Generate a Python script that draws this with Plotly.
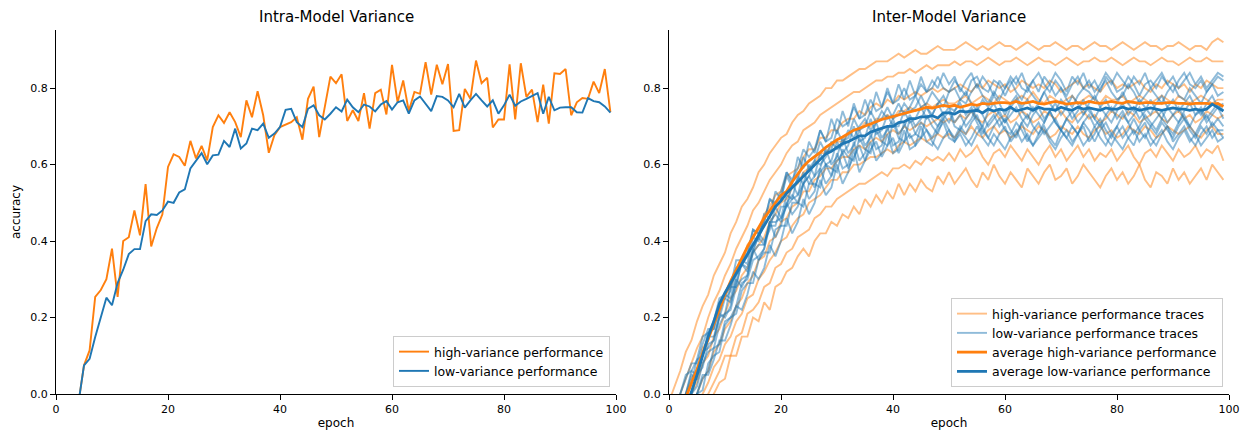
import plotly.graph_objects as go

epochs = list(range(100))

# ---------------- Intra-Model Variance ----------------
intra_high = [-0.20, -0.15, -0.10, -0.06, -0.024, 0.075, 0.114, 0.254, 0.272, 0.30,
              0.38, 0.254, 0.40, 0.41, 0.48, 0.415, 0.549, 0.386, 0.434, 0.47,
              0.594, 0.627, 0.62, 0.597, 0.662, 0.616, 0.649, 0.611, 0.698, 0.729,
              0.709, 0.737, 0.711, 0.672, 0.768, 0.724, 0.792, 0.729, 0.631, 0.677,
              0.698, 0.705, 0.711, 0.724, 0.665, 0.772, 0.804, 0.672, 0.75, 0.83,
              0.813, 0.836, 0.714, 0.742, 0.714, 0.787, 0.694, 0.787, 0.796, 0.731,
              0.861, 0.763, 0.82, 0.74, 0.79, 0.785, 0.868, 0.783, 0.861, 0.81,
              0.863, 0.688, 0.69, 0.798, 0.772, 0.872, 0.813, 0.827, 0.697, 0.718,
              0.718, 0.862, 0.718, 0.865, 0.777, 0.796, 0.711, 0.809, 0.707, 0.839,
              0.837, 0.85, 0.729, 0.763, 0.774, 0.772, 0.817, 0.787, 0.85, 0.737]

intra_low = [-0.18, -0.14, -0.10, -0.06, -0.024, 0.075, 0.092, 0.149, 0.20, 0.252,
             0.232, 0.29, 0.325, 0.366, 0.379, 0.379, 0.452, 0.47, 0.468, 0.48,
             0.503, 0.5, 0.527, 0.535, 0.59, 0.611, 0.63, 0.601, 0.624, 0.626,
             0.662, 0.646, 0.694, 0.642, 0.655, 0.694, 0.69, 0.707, 0.67, 0.681,
             0.698, 0.743, 0.746, 0.711, 0.698, 0.746, 0.755, 0.729, 0.718, 0.733,
             0.75, 0.739, 0.77, 0.75, 0.737, 0.757, 0.752, 0.739, 0.757, 0.766,
             0.744, 0.763, 0.768, 0.733, 0.768, 0.778, 0.759, 0.74, 0.779, 0.777,
             0.768, 0.75, 0.785, 0.749, 0.768, 0.785, 0.768, 0.752, 0.768, 0.733,
             0.755, 0.783, 0.754, 0.765, 0.772, 0.779, 0.787, 0.733, 0.777, 0.742,
             0.749, 0.75, 0.75, 0.737, 0.736, 0.774, 0.766, 0.763, 0.752, 0.736]

# ---------------- Inter-Model Variance: high-variance traces ----------------
high_trace_1 = [-0.02, 0.02, 0.06, 0.11, 0.14, 0.19, 0.23, 0.26, 0.31, 0.34,
                0.37, 0.42, 0.45, 0.49, 0.51, 0.54, 0.58, 0.60, 0.63, 0.65,
                0.67, 0.68, 0.71, 0.73, 0.74, 0.76, 0.77, 0.78, 0.80, 0.80,
                0.82, 0.82, 0.83, 0.84, 0.85, 0.85, 0.86, 0.87, 0.87, 0.87,
                0.88, 0.89, 0.88, 0.89, 0.90, 0.89, 0.89, 0.90, 0.91, 0.90,
                0.90, 0.90, 0.91, 0.92, 0.91, 0.90, 0.91, 0.90, 0.91, 0.92,
                0.91, 0.91, 0.90, 0.91, 0.92, 0.91, 0.90, 0.91, 0.91, 0.92,
                0.91, 0.90, 0.91, 0.91, 0.90, 0.91, 0.92, 0.91, 0.91, 0.90,
                0.91, 0.92, 0.91, 0.90, 0.91, 0.92, 0.91, 0.91, 0.90, 0.91,
                0.91, 0.92, 0.91, 0.90, 0.91, 0.91, 0.90, 0.92, 0.93, 0.92]

high_trace_2 = [-0.08, -0.04, 0.00, 0.04, 0.08, 0.12, 0.15, 0.20, 0.24, 0.27,
                0.31, 0.34, 0.38, 0.41, 0.44, 0.48, 0.50, 0.53, 0.56, 0.58,
                0.60, 0.63, 0.65, 0.66, 0.69, 0.70, 0.71, 0.73, 0.74, 0.75,
                0.76, 0.77, 0.78, 0.79, 0.79, 0.80, 0.81, 0.82, 0.82, 0.83,
                0.83, 0.84, 0.84, 0.85, 0.84, 0.85, 0.86, 0.85, 0.86, 0.86,
                0.86, 0.87, 0.86, 0.87, 0.87, 0.86, 0.87, 0.88, 0.87, 0.86,
                0.87, 0.87, 0.88, 0.87, 0.86, 0.87, 0.88, 0.87, 0.87, 0.86,
                0.87, 0.88, 0.87, 0.86, 0.87, 0.87, 0.88, 0.87, 0.87, 0.88,
                0.87, 0.86, 0.87, 0.88, 0.87, 0.87, 0.86, 0.87, 0.88, 0.87,
                0.87, 0.86, 0.87, 0.88, 0.87, 0.87, 0.88, 0.87, 0.87, 0.87]

high_trace_3 = [-0.11, -0.07, -0.04, 0.00, 0.04, 0.06, 0.12, 0.14, 0.19, 0.21,
                0.26, 0.28, 0.32, 0.34, 0.39, 0.41, 0.43, 0.47, 0.49, 0.52,
                0.53, 0.57, 0.58, 0.59, 0.62, 0.64, 0.64, 0.67, 0.67, 0.69,
                0.69, 0.71, 0.72, 0.72, 0.74, 0.73, 0.75, 0.76, 0.75, 0.77,
                0.76, 0.78, 0.77, 0.78, 0.79, 0.78, 0.79, 0.80, 0.79, 0.80,
                0.79, 0.80, 0.81, 0.80, 0.79, 0.81, 0.80, 0.82, 0.81, 0.80,
                0.81, 0.79, 0.80, 0.82, 0.81, 0.80, 0.81, 0.80, 0.82, 0.81,
                0.79, 0.80, 0.81, 0.82, 0.80, 0.81, 0.80, 0.79, 0.81, 0.82,
                0.80, 0.81, 0.80, 0.81, 0.82, 0.80, 0.79, 0.81, 0.80, 0.82,
                0.81, 0.80, 0.81, 0.79, 0.81, 0.80, 0.82, 0.81, 0.80, 0.80]

high_trace_4 = [-0.14, -0.10, -0.07, -0.03, 0.00, 0.03, 0.08, 0.10, 0.15, 0.17,
                0.21, 0.25, 0.27, 0.31, 0.33, 0.37, 0.39, 0.41, 0.45, 0.47,
                0.50, 0.51, 0.54, 0.55, 0.58, 0.59, 0.60, 0.63, 0.63, 0.65,
                0.66, 0.66, 0.68, 0.69, 0.69, 0.71, 0.70, 0.72, 0.72, 0.73,
                0.72, 0.74, 0.74, 0.75, 0.74, 0.75, 0.76, 0.75, 0.76, 0.77,
                0.76, 0.76, 0.77, 0.78, 0.76, 0.77, 0.78, 0.77, 0.76, 0.78,
                0.77, 0.76, 0.77, 0.78, 0.77, 0.79, 0.77, 0.76, 0.78, 0.77,
                0.76, 0.77, 0.78, 0.76, 0.77, 0.78, 0.77, 0.76, 0.78, 0.77,
                0.77, 0.78, 0.76, 0.77, 0.78, 0.77, 0.76, 0.77, 0.78, 0.77,
                0.76, 0.78, 0.77, 0.76, 0.77, 0.78, 0.77, 0.76, 0.77, 0.77]

high_trace_5 = [-0.16, -0.13, -0.10, -0.07, -0.03, 0.00, 0.04, 0.06, 0.11, 0.13,
                0.17, 0.19, 0.23, 0.25, 0.29, 0.31, 0.35, 0.36, 0.40, 0.41,
                0.45, 0.46, 0.49, 0.50, 0.53, 0.53, 0.56, 0.57, 0.59, 0.59,
                0.61, 0.62, 0.62, 0.64, 0.65, 0.64, 0.66, 0.67, 0.66, 0.68,
                0.69, 0.68, 0.70, 0.69, 0.70, 0.71, 0.70, 0.71, 0.72, 0.71,
                0.72, 0.71, 0.73, 0.72, 0.74, 0.72, 0.71, 0.73, 0.74, 0.72,
                0.73, 0.71, 0.72, 0.74, 0.73, 0.71, 0.72, 0.74, 0.73, 0.72,
                0.74, 0.72, 0.71, 0.73, 0.74, 0.72, 0.73, 0.71, 0.72, 0.74,
                0.73, 0.72, 0.74, 0.73, 0.71, 0.72, 0.73, 0.74, 0.72, 0.71,
                0.73, 0.74, 0.72, 0.73, 0.71, 0.72, 0.74, 0.73, 0.72, 0.73]

high_trace_6 = [-0.19, -0.16, -0.12, -0.09, -0.06, -0.03, 0.00, 0.03, 0.07, 0.09,
                0.13, 0.15, 0.19, 0.21, 0.25, 0.26, 0.30, 0.32, 0.35, 0.37,
                0.40, 0.41, 0.44, 0.46, 0.47, 0.50, 0.51, 0.52, 0.54, 0.56,
                0.56, 0.58, 0.58, 0.60, 0.60, 0.61, 0.62, 0.62, 0.63, 0.64,
                0.63, 0.65, 0.66, 0.65, 0.66, 0.67, 0.66, 0.67, 0.68, 0.67,
                0.68, 0.67, 0.69, 0.68, 0.70, 0.68, 0.67, 0.69, 0.70, 0.68,
                0.69, 0.67, 0.68, 0.70, 0.69, 0.68, 0.70, 0.69, 0.67, 0.68,
                0.70, 0.69, 0.68, 0.70, 0.68, 0.67, 0.69, 0.70, 0.68, 0.69,
                0.67, 0.68, 0.70, 0.69, 0.68, 0.70, 0.69, 0.67, 0.68, 0.70,
                0.69, 0.68, 0.69, 0.70, 0.68, 0.67, 0.69, 0.70, 0.68, 0.68]

high_trace_7 = [-0.20, -0.17, -0.14, -0.11, -0.09, -0.06, -0.03, 0.00, 0.03, 0.06,
                0.10, 0.10, 0.15, 0.16, 0.21, 0.22, 0.24, 0.28, 0.29, 0.33,
                0.34, 0.37, 0.38, 0.41, 0.42, 0.43, 0.46, 0.47, 0.49, 0.49,
                0.51, 0.52, 0.53, 0.54, 0.55, 0.55, 0.56, 0.57, 0.58, 0.57,
                0.59, 0.59, 0.60, 0.59, 0.61, 0.60, 0.62, 0.61, 0.62, 0.61,
                0.63, 0.61, 0.64, 0.62, 0.63, 0.65, 0.62, 0.60, 0.63, 0.64,
                0.62, 0.65, 0.63, 0.61, 0.64, 0.62, 0.60, 0.63, 0.65, 0.62,
                0.64, 0.61, 0.63, 0.65, 0.62, 0.64, 0.61, 0.63, 0.62, 0.64,
                0.61, 0.63, 0.65, 0.62, 0.60, 0.63, 0.64, 0.62, 0.65, 0.63,
                0.61, 0.64, 0.62, 0.63, 0.65, 0.62, 0.64, 0.63, 0.65, 0.61]

high_trace_8 = [-0.21, -0.18, -0.16, -0.13, -0.10, -0.08, -0.05, -0.03, 0.00, 0.03,
                0.04, 0.10, 0.10, 0.15, 0.15, 0.20, 0.19, 0.24, 0.22, 0.28,
                0.29, 0.32, 0.33, 0.36, 0.38, 0.36, 0.40, 0.42, 0.42, 0.45,
                0.44, 0.47, 0.46, 0.49, 0.47, 0.51, 0.49, 0.52, 0.50, 0.53,
                0.51, 0.55, 0.52, 0.55, 0.53, 0.56, 0.54, 0.53, 0.57, 0.55,
                0.58, 0.55, 0.57, 0.59, 0.56, 0.54, 0.58, 0.56, 0.60, 0.57,
                0.55, 0.58, 0.56, 0.54, 0.59, 0.57, 0.55, 0.58, 0.60, 0.56,
                0.57, 0.59, 0.55, 0.57, 0.60, 0.58, 0.56, 0.54, 0.57, 0.59,
                0.56, 0.58, 0.55, 0.57, 0.60, 0.56, 0.54, 0.58, 0.57, 0.55,
                0.59, 0.56, 0.58, 0.55, 0.57, 0.59, 0.56, 0.60, 0.58, 0.56]

# ---------------- Inter-Model Variance: low-variance traces ----------------
low_trace_1 = [-0.15, -0.11, -0.07, -0.04, 0.00, 0.05, 0.07, 0.13, 0.14, 0.20,
               0.21, 0.28, 0.28, 0.35, 0.34, 0.41, 0.40, 0.47, 0.46, 0.53,
               0.51, 0.58, 0.55, 0.62, 0.59, 0.66, 0.63, 0.69, 0.66, 0.72,
               0.68, 0.74, 0.70, 0.76, 0.72, 0.77, 0.73, 0.79, 0.75, 0.80,
               0.76, 0.81, 0.77, 0.82, 0.78, 0.83, 0.79, 0.82, 0.80, 0.84,
               0.81, 0.83, 0.79, 0.82, 0.84, 0.80, 0.83, 0.81, 0.78, 0.82,
               0.80, 0.83, 0.81, 0.84, 0.80, 0.82, 0.79, 0.83, 0.81, 0.84,
               0.82, 0.79, 0.83, 0.81, 0.84, 0.80, 0.82, 0.79, 0.83, 0.81,
               0.84, 0.82, 0.80, 0.83, 0.81, 0.84, 0.80, 0.82, 0.84, 0.81,
               0.83, 0.80, 0.82, 0.84, 0.81, 0.83, 0.80, 0.82, 0.84, 0.83]

low_trace_2 = [-0.11, -0.07, -0.04, 0.00, 0.03, 0.09, 0.10, 0.16, 0.17, 0.24,
               0.25, 0.27, 0.33, 0.34, 0.36, 0.43, 0.42, 0.45, 0.51, 0.50,
               0.53, 0.58, 0.56, 0.59, 0.64, 0.62, 0.64, 0.69, 0.66, 0.67,
               0.72, 0.70, 0.71, 0.75, 0.72, 0.73, 0.77, 0.74, 0.75, 0.79,
               0.76, 0.77, 0.80, 0.77, 0.78, 0.81, 0.79, 0.80, 0.83, 0.80,
               0.79, 0.82, 0.80, 0.78, 0.82, 0.83, 0.80, 0.79, 0.82, 0.81,
               0.78, 0.81, 0.83, 0.80, 0.79, 0.82, 0.84, 0.81, 0.79, 0.82,
               0.80, 0.78, 0.81, 0.83, 0.80, 0.82, 0.79, 0.81, 0.84, 0.82,
               0.79, 0.80, 0.83, 0.81, 0.78, 0.81, 0.82, 0.80, 0.83, 0.81,
               0.79, 0.82, 0.84, 0.81, 0.80, 0.82, 0.79, 0.81, 0.83, 0.82]

low_trace_3 = [-0.17, -0.14, -0.10, -0.07, -0.03, 0.00, 0.04, 0.06, 0.12, 0.13,
               0.19, 0.20, 0.23, 0.29, 0.30, 0.35, 0.36, 0.38, 0.44, 0.44,
               0.49, 0.49, 0.51, 0.57, 0.55, 0.57, 0.61, 0.60, 0.62, 0.66,
               0.64, 0.65, 0.69, 0.67, 0.70, 0.72, 0.69, 0.71, 0.74, 0.72,
               0.73, 0.76, 0.73, 0.75, 0.78, 0.75, 0.76, 0.79, 0.77, 0.75,
               0.79, 0.80, 0.77, 0.76, 0.79, 0.81, 0.78, 0.76, 0.79, 0.77,
               0.80, 0.82, 0.79, 0.77, 0.80, 0.78, 0.76, 0.79, 0.81, 0.78,
               0.80, 0.77, 0.75, 0.78, 0.80, 0.79, 0.77, 0.80, 0.82, 0.79,
               0.77, 0.78, 0.81, 0.79, 0.76, 0.78, 0.80, 0.78, 0.76, 0.79,
               0.81, 0.78, 0.77, 0.80, 0.78, 0.76, 0.79, 0.81, 0.78, 0.79]

low_trace_4 = [-0.07, -0.03, 0.00, 0.05, 0.06, 0.09, 0.15, 0.16, 0.19, 0.25,
               0.26, 0.28, 0.35, 0.35, 0.37, 0.43, 0.42, 0.45, 0.51, 0.49,
               0.51, 0.57, 0.54, 0.56, 0.62, 0.59, 0.61, 0.66, 0.63, 0.64,
               0.69, 0.66, 0.67, 0.72, 0.69, 0.70, 0.74, 0.71, 0.72, 0.75,
               0.72, 0.73, 0.76, 0.74, 0.75, 0.78, 0.75, 0.73, 0.76, 0.78,
               0.75, 0.74, 0.77, 0.79, 0.76, 0.74, 0.77, 0.75, 0.78, 0.76,
               0.73, 0.76, 0.78, 0.75, 0.77, 0.74, 0.76, 0.79, 0.76, 0.74,
               0.77, 0.75, 0.78, 0.76, 0.73, 0.76, 0.78, 0.75, 0.77, 0.74,
               0.76, 0.79, 0.76, 0.74, 0.77, 0.75, 0.73, 0.76, 0.78, 0.75,
               0.77, 0.74, 0.76, 0.78, 0.75, 0.73, 0.76, 0.78, 0.75, 0.76]

low_trace_5 = [-0.14, -0.10, -0.07, -0.03, 0.00, 0.02, 0.08, 0.11, 0.12, 0.18,
               0.21, 0.22, 0.28, 0.30, 0.31, 0.37, 0.39, 0.39, 0.45, 0.45,
               0.46, 0.52, 0.51, 0.52, 0.58, 0.55, 0.57, 0.63, 0.60, 0.61,
               0.66, 0.63, 0.65, 0.70, 0.66, 0.67, 0.72, 0.68, 0.69, 0.73,
               0.70, 0.70, 0.74, 0.71, 0.72, 0.75, 0.72, 0.73, 0.76, 0.73,
               0.71, 0.74, 0.76, 0.73, 0.75, 0.72, 0.70, 0.74, 0.76, 0.73,
               0.71, 0.75, 0.77, 0.74, 0.72, 0.75, 0.73, 0.71, 0.74, 0.76,
               0.73, 0.75, 0.72, 0.74, 0.77, 0.74, 0.72, 0.75, 0.73, 0.71,
               0.74, 0.76, 0.73, 0.75, 0.72, 0.74, 0.77, 0.74, 0.72, 0.75,
               0.73, 0.71, 0.74, 0.76, 0.73, 0.75, 0.72, 0.74, 0.76, 0.74]

low_trace_6 = [-0.10, -0.07, -0.03, 0.00, 0.06, 0.05, 0.10, 0.15, 0.15, 0.20,
               0.25, 0.24, 0.29, 0.34, 0.32, 0.37, 0.42, 0.40, 0.43, 0.49,
               0.46, 0.49, 0.55, 0.52, 0.55, 0.60, 0.57, 0.59, 0.64, 0.60,
               0.62, 0.67, 0.63, 0.65, 0.69, 0.65, 0.67, 0.71, 0.67, 0.69,
               0.72, 0.68, 0.70, 0.73, 0.70, 0.72, 0.75, 0.72, 0.70, 0.73,
               0.75, 0.71, 0.73, 0.70, 0.72, 0.75, 0.73, 0.70, 0.72, 0.74,
               0.71, 0.73, 0.75, 0.72, 0.70, 0.73, 0.75, 0.72, 0.74, 0.71,
               0.69, 0.72, 0.74, 0.71, 0.73, 0.75, 0.72, 0.70, 0.73, 0.75,
               0.72, 0.74, 0.71, 0.73, 0.75, 0.72, 0.70, 0.72, 0.74, 0.71,
               0.73, 0.75, 0.72, 0.70, 0.73, 0.74, 0.71, 0.73, 0.75, 0.72]

low_trace_7 = [-0.16, -0.13, -0.10, -0.06, -0.03, 0.00, 0.01, 0.08, 0.10, 0.11,
               0.18, 0.20, 0.21, 0.27, 0.29, 0.29, 0.35, 0.37, 0.37, 0.43,
               0.44, 0.44, 0.50, 0.50, 0.49, 0.55, 0.55, 0.54, 0.60, 0.59,
               0.58, 0.64, 0.62, 0.61, 0.67, 0.64, 0.63, 0.69, 0.66, 0.65,
               0.71, 0.67, 0.66, 0.72, 0.68, 0.67, 0.73, 0.70, 0.68, 0.72,
               0.74, 0.70, 0.69, 0.72, 0.74, 0.71, 0.68, 0.71, 0.73, 0.70,
               0.72, 0.69, 0.67, 0.71, 0.73, 0.70, 0.68, 0.71, 0.74, 0.71,
               0.69, 0.72, 0.70, 0.68, 0.71, 0.73, 0.70, 0.72, 0.69, 0.67,
               0.70, 0.73, 0.71, 0.68, 0.70, 0.73, 0.71, 0.69, 0.72, 0.70,
               0.68, 0.71, 0.73, 0.70, 0.68, 0.71, 0.73, 0.70, 0.72, 0.70]

low_trace_8 = [-0.10, -0.06, -0.03, 0.00, 0.05, 0.04, 0.11, 0.12, 0.14, 0.21,
               0.20, 0.23, 0.30, 0.28, 0.31, 0.38, 0.35, 0.38, 0.45, 0.41,
               0.44, 0.50, 0.47, 0.49, 0.55, 0.51, 0.53, 0.59, 0.55, 0.57,
               0.63, 0.59, 0.60, 0.66, 0.61, 0.63, 0.68, 0.64, 0.65, 0.70,
               0.65, 0.66, 0.71, 0.67, 0.68, 0.71, 0.69, 0.67, 0.70, 0.72,
               0.69, 0.67, 0.70, 0.68, 0.71, 0.73, 0.69, 0.67, 0.70, 0.72,
               0.69, 0.68, 0.71, 0.69, 0.66, 0.69, 0.71, 0.68, 0.70, 0.72,
               0.69, 0.67, 0.70, 0.68, 0.71, 0.69, 0.66, 0.69, 0.71, 0.68,
               0.70, 0.67, 0.69, 0.72, 0.69, 0.67, 0.70, 0.68, 0.71, 0.69,
               0.67, 0.70, 0.72, 0.69, 0.67, 0.70, 0.68, 0.71, 0.69, 0.69]

low_trace_9 = [-0.16, -0.12, -0.09, -0.06, -0.03, 0.00, 0.05, 0.05, 0.09, 0.14,
               0.14, 0.18, 0.23, 0.22, 0.26, 0.32, 0.30, 0.33, 0.39, 0.36,
               0.40, 0.46, 0.42, 0.45, 0.51, 0.47, 0.50, 0.56, 0.52, 0.54,
               0.60, 0.55, 0.58, 0.64, 0.58, 0.61, 0.66, 0.61, 0.63, 0.68,
               0.63, 0.64, 0.69, 0.64, 0.65, 0.70, 0.66, 0.65, 0.69, 0.71,
               0.67, 0.66, 0.69, 0.67, 0.65, 0.68, 0.70, 0.67, 0.65, 0.68,
               0.70, 0.66, 0.68, 0.71, 0.67, 0.65, 0.68, 0.70, 0.67, 0.65,
               0.69, 0.67, 0.65, 0.68, 0.70, 0.66, 0.68, 0.71, 0.67, 0.65,
               0.68, 0.70, 0.67, 0.65, 0.69, 0.71, 0.67, 0.65, 0.68, 0.70,
               0.66, 0.68, 0.70, 0.67, 0.65, 0.68, 0.70, 0.67, 0.69, 0.67]

low_trace_10 = [-0.06, -0.03, 0.00, 0.04, 0.08, 0.08, 0.13, 0.17, 0.17, 0.22,
                0.26, 0.25, 0.31, 0.34, 0.33, 0.38, 0.41, 0.39, 0.45, 0.47,
                0.45, 0.50, 0.52, 0.50, 0.55, 0.57, 0.54, 0.58, 0.60, 0.57,
                0.61, 0.63, 0.59, 0.62, 0.65, 0.61, 0.64, 0.66, 0.62, 0.65,
                0.67, 0.63, 0.66, 0.68, 0.65, 0.67, 0.69, 0.66, 0.64, 0.67,
                0.69, 0.66, 0.68, 0.65, 0.67, 0.70, 0.67, 0.65, 0.68, 0.66,
                0.64, 0.67, 0.69, 0.66, 0.68, 0.65, 0.67, 0.69, 0.66, 0.64,
                0.67, 0.69, 0.66, 0.68, 0.65, 0.67, 0.70, 0.67, 0.65, 0.68,
                0.66, 0.64, 0.67, 0.69, 0.66, 0.68, 0.65, 0.67, 0.69, 0.66,
                0.64, 0.67, 0.69, 0.66, 0.68, 0.65, 0.67, 0.69, 0.66, 0.67]

# ---------------- Inter-Model Variance: averages ----------------
avg_high = [-0.12, -0.08, -0.04, -0.01, 0.025, 0.065, 0.105, 0.145, 0.185, 0.225,
            0.26, 0.295, 0.325, 0.355, 0.385, 0.41, 0.435, 0.46, 0.48, 0.50,
            0.52, 0.53, 0.555, 0.575, 0.595, 0.61, 0.62, 0.632, 0.645, 0.655,
            0.665, 0.672, 0.68, 0.69, 0.695, 0.70, 0.705, 0.712, 0.718, 0.722,
            0.728, 0.73, 0.735, 0.74, 0.742, 0.745, 0.75, 0.748, 0.752, 0.755,
            0.752, 0.755, 0.75, 0.755, 0.758, 0.755, 0.76, 0.758, 0.76, 0.762,
            0.762, 0.76, 0.765, 0.76, 0.762, 0.765, 0.76, 0.758, 0.762, 0.765,
            0.762, 0.758, 0.76, 0.762, 0.76, 0.765, 0.762, 0.76, 0.762, 0.765,
            0.762, 0.76, 0.765, 0.762, 0.76, 0.762, 0.762, 0.76, 0.76, 0.762,
            0.762, 0.76, 0.76, 0.758, 0.76, 0.76, 0.76, 0.758, 0.76, 0.752]

avg_low = [-0.14, -0.10, -0.06, -0.03, 0.005, 0.05, 0.10, 0.15, 0.19, 0.235,
           0.265, 0.29, 0.315, 0.34, 0.365, 0.39, 0.415, 0.44, 0.465, 0.49,
           0.505, 0.525, 0.54, 0.555, 0.57, 0.585, 0.60, 0.615, 0.628, 0.635,
           0.645, 0.655, 0.66, 0.668, 0.675, 0.675, 0.685, 0.69, 0.695, 0.70,
           0.70, 0.71, 0.712, 0.72, 0.72, 0.725, 0.725, 0.728, 0.722, 0.735,
           0.735, 0.732, 0.74, 0.738, 0.74, 0.742, 0.735, 0.745, 0.74, 0.745,
           0.742, 0.75, 0.74, 0.745, 0.748, 0.742, 0.75, 0.745, 0.745, 0.742,
           0.75, 0.745, 0.742, 0.75, 0.745, 0.748, 0.745, 0.742, 0.748, 0.745,
           0.745, 0.75, 0.745, 0.748, 0.742, 0.745, 0.748, 0.745, 0.742, 0.745,
           0.748, 0.745, 0.745, 0.742, 0.745, 0.742, 0.745, 0.758, 0.748, 0.74]

x_ticks = [0, 20, 40, 60, 80, 100]
y_ticks = [0.0, 0.2, 0.4, 0.6, 0.8]
titles = ["Intra-Model Variance", "Inter-Model Variance"]

high_traces = [high_trace_1, high_trace_2, high_trace_3, high_trace_4,
               high_trace_5, high_trace_6, high_trace_7, high_trace_8]
low_traces = [low_trace_1, low_trace_2, low_trace_3, low_trace_4, low_trace_5,
              low_trace_6, low_trace_7, low_trace_8, low_trace_9, low_trace_10]

ORANGE = "#ff7f0e"
BLUE = "#1f77b4"
ORANGE_T = "rgba(255,127,14,0.5)"
BLUE_T = "rgba(31,119,180,0.5)"

fig = go.Figure()

# left panel
fig.add_trace(go.Scatter(x=epochs[:len(intra_high)], y=intra_high, mode="lines",
                         line=dict(color=ORANGE, width=1.9),
                         name="high-variance performance",
                         xaxis="x", yaxis="y", legend="legend"))
fig.add_trace(go.Scatter(x=epochs[:len(intra_low)], y=intra_low, mode="lines",
                         line=dict(color=BLUE, width=1.9),
                         name="low-variance performance",
                         xaxis="x", yaxis="y", legend="legend"))

# right panel
for i, tr in enumerate(high_traces):
    fig.add_trace(go.Scatter(x=epochs[:len(tr)], y=tr, mode="lines",
                             line=dict(color=ORANGE_T, width=1.9),
                             name="high-variance performance traces",
                             legendgroup="ht", showlegend=(i == 0),
                             xaxis="x2", yaxis="y2", legend="legend2"))
for i, tr in enumerate(low_traces):
    fig.add_trace(go.Scatter(x=epochs[:len(tr)], y=tr, mode="lines",
                             line=dict(color=BLUE_T, width=1.9),
                             name="low-variance performance traces",
                             legendgroup="lt", showlegend=(i == 0),
                             xaxis="x2", yaxis="y2", legend="legend2"))
fig.add_trace(go.Scatter(x=epochs[:len(avg_high)], y=avg_high, mode="lines",
                         line=dict(color=ORANGE, width=2.8),
                         name="average high-variance performance",
                         xaxis="x2", yaxis="y2", legend="legend2"))
fig.add_trace(go.Scatter(x=epochs[:len(avg_low)], y=avg_low, mode="lines",
                         line=dict(color=BLUE, width=2.8),
                         name="average low-variance performance",
                         xaxis="x2", yaxis="y2", legend="legend2"))

W, H = 1240, 430
ML, MR, MT, MB = 56, 11, 30, 36
plot_w = W - ML - MR
left_dom = [0, (616 - ML) / plot_w]
right_dom = [(669 - ML) / plot_w, 1]

axis_style = dict(showline=True, linecolor="black", linewidth=1,
                  ticks="outside", ticklen=5, tickwidth=1, tickcolor="black",
                  showgrid=False, zeroline=False, mirror=False, automargin=False,
                  tickfont=dict(size=11, color="black"))

xcommon = dict(range=[0, 100], tickvals=x_ticks, **axis_style)
ycommon = dict(range=[0, 0.952], tickvals=y_ticks, tickformat=".1f", **axis_style)

legend_style = dict(xanchor="right", yanchor="bottom", bgcolor="rgba(255,255,255,0.8)",
                    bordercolor="#cccccc", borderwidth=1,
                    font=dict(size=12.5, color="black"), tracegroupgap=0)

fig.update_layout(
    width=W, height=H,
    margin=dict(l=ML, r=MR, t=MT, b=MB, autoexpand=False),
    paper_bgcolor="white", plot_bgcolor="white",
    font=dict(family="DejaVu Sans", color="black"),
    xaxis=dict(domain=left_dom, anchor="y",
               title=dict(text="epoch", font=dict(size=12), standoff=6), **xcommon),
    yaxis=dict(domain=[0, 1], anchor="x",
               title=dict(text="accuracy", font=dict(size=12), standoff=7), **ycommon),
    xaxis2=dict(domain=right_dom, anchor="y2",
                title=dict(text="epoch", font=dict(size=12), standoff=6), **xcommon),
    yaxis2=dict(domain=[0, 1], anchor="x2", **ycommon),
    legend=dict(x=(610 - ML) / plot_w, y=7 / 364, **legend_style),
    legend2=dict(x=(1223 - ML) / plot_w, y=7 / 364, **legend_style),
    annotations=[
        dict(text=titles[0], x=(left_dom[0] + left_dom[1]) / 2, y=1, xref="paper", yref="paper",
             xanchor="center", yanchor="bottom", yshift=2, showarrow=False,
             font=dict(size=15, color="black")),
        dict(text=titles[1], x=(right_dom[0] + right_dom[1]) / 2, y=1, xref="paper", yref="paper",
             xanchor="center", yanchor="bottom", yshift=2, showarrow=False,
             font=dict(size=15, color="black")),
    ],
)

fig.write_html("out.html")
